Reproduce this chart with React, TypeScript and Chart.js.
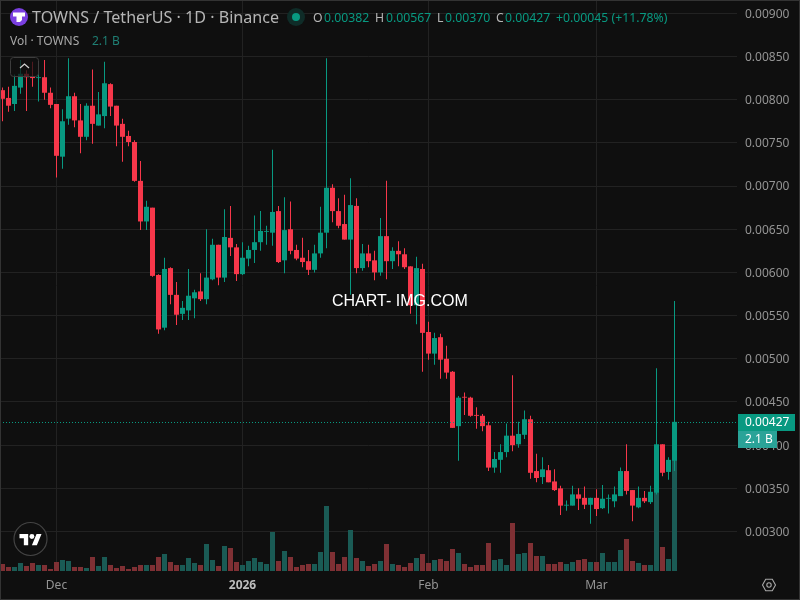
import React, { useEffect, useRef } from "react";
import { Chart, registerables } from "chart.js";

Chart.register(...registerables);

const FONT = '"Noto Sans", sans-serif';
const BG = "#0f0f0f";
const GRID = "#222222";
const AXIS_TEXT = "#949494";
const UP = "#089981";
const DOWN = "#f7374a";
const UP_VOL = "#1a5b55";
const DOWN_VOL = "#7f3034";

const opens = [
  0.00811, 0.00802, 0.00795, 0.00814, 0.0083, 0.00827, 0.00825, 0.00826, 0.00808, 0.00795,
  0.00734, 0.00778, 0.00804, 0.00776, 0.00757, 0.00793, 0.0077, 0.00781, 0.00818, 0.00793,
  0.00772, 0.00758, 0.00751, 0.00706, 0.00659, 0.00675, 0.00597, 0.00536, 0.00605, 0.00574,
  0.00552, 0.00556, 0.0057, 0.00578, 0.00569, 0.00592, 0.00632, 0.00594, 0.0064, 0.00629,
  0.00598, 0.00616, 0.00626, 0.00635, 0.00647, 0.00646, 0.00671, 0.00614, 0.0065, 0.00626,
  0.00617, 0.00613, 0.00603, 0.00622, 0.00646, 0.00698, 0.00671, 0.00656, 0.00638, 0.00677,
  0.00605, 0.00622, 0.00614, 0.006, 0.00642, 0.00613, 0.00625, 0.00621, 0.00607, 0.00562,
  0.00604, 0.00531, 0.00506, 0.00525, 0.005, 0.00485, 0.00422, 0.00456, 0.00455, 0.00435,
  0.00434, 0.00423, 0.00374, 0.00383, 0.00392, 0.00411, 0.00401, 0.00412, 0.0043, 0.0037,
  0.00363, 0.00371, 0.00358, 0.0035, 0.0033, 0.0033, 0.00343, 0.00339, 0.00331, 0.00339,
  0.00327, 0.00338, 0.00335, 0.00341, 0.0037, 0.00348, 0.00328, 0.00339, 0.00334, 0.00345,
  0.00401, 0.00369, 0.00382,
];
const highs = [
  0.00814, 0.00815, 0.00829, 0.00846, 0.00834, 0.00844, 0.0084, 0.00846, 0.00814, 0.00795,
  0.00789, 0.00848, 0.00808, 0.00795, 0.00796, 0.00835, 0.00809, 0.00844, 0.00819, 0.00793,
  0.00778, 0.00764, 0.00753, 0.00729, 0.00683, 0.00675, 0.00598, 0.00617, 0.00606, 0.00589,
  0.00567, 0.00604, 0.0058, 0.00599, 0.0065, 0.00639, 0.00632, 0.00673, 0.00677, 0.00633,
  0.00635, 0.00631, 0.00666, 0.00671, 0.00654, 0.00742, 0.00677, 0.00687, 0.00682, 0.00632,
  0.0064, 0.00626, 0.00632, 0.00676, 0.00848, 0.00702, 0.00686, 0.0069, 0.00709, 0.00686,
  0.00633, 0.00632, 0.00625, 0.00663, 0.00706, 0.00629, 0.00636, 0.00628, 0.00607, 0.00618,
  0.0061, 0.00543, 0.0053, 0.00529, 0.00515, 0.00486, 0.00457, 0.00461, 0.00456, 0.00444,
  0.00436, 0.00427, 0.00392, 0.00401, 0.00425, 0.00481, 0.00427, 0.0044, 0.00434, 0.0039,
  0.00386, 0.00377, 0.00372, 0.00353, 0.00336, 0.00353, 0.0035, 0.00352, 0.00339, 0.00349,
  0.00354, 0.00343, 0.00352, 0.00374, 0.00401, 0.00348, 0.00352, 0.00347, 0.00353, 0.00489,
  0.00401, 0.00386, 0.00567,
];
const lows = [
  0.00775, 0.00786, 0.00787, 0.00807, 0.00787, 0.00815, 0.00798, 0.008, 0.0079, 0.0071,
  0.0072, 0.00771, 0.00768, 0.00738, 0.00753, 0.00749, 0.0077, 0.00767, 0.00781, 0.00746,
  0.00728, 0.00746, 0.00705, 0.00649, 0.00649, 0.00595, 0.00529, 0.00533, 0.00563, 0.00539,
  0.00545, 0.00545, 0.00547, 0.00567, 0.00563, 0.00591, 0.00585, 0.00589, 0.00619, 0.0059,
  0.00597, 0.00607, 0.00611, 0.00625, 0.00632, 0.00631, 0.00611, 0.00599, 0.00621, 0.00614,
  0.00606, 0.00597, 0.006, 0.00617, 0.00628, 0.00658, 0.00651, 0.00638, 0.00574, 0.00599,
  0.00602, 0.00606, 0.00591, 0.00596, 0.00592, 0.00604, 0.00607, 0.00604, 0.00552, 0.0054,
  0.00485, 0.00499, 0.00493, 0.00477, 0.00477, 0.0042, 0.00382, 0.00435, 0.00433, 0.00419,
  0.00416, 0.0037, 0.00368, 0.00368, 0.00386, 0.00393, 0.00397, 0.00407, 0.00361, 0.00357,
  0.00355, 0.00357, 0.00347, 0.00319, 0.00324, 0.0033, 0.00325, 0.00326, 0.00309, 0.00318,
  0.00326, 0.00321, 0.00328, 0.00341, 0.00343, 0.00312, 0.00327, 0.00333, 0.00332, 0.00343,
  0.00364, 0.0036, 0.0037,
];
const closes = [
  0.00801, 0.00793, 0.00816, 0.0083, 0.00826, 0.00825, 0.00826, 0.00808, 0.00794, 0.00735,
  0.00775, 0.00804, 0.00776, 0.00757, 0.00793, 0.00772, 0.00783, 0.00819, 0.00792, 0.0077,
  0.00757, 0.00751, 0.00706, 0.00659, 0.00676, 0.00596, 0.00534, 0.00604, 0.00574, 0.00551,
  0.00559, 0.00573, 0.00577, 0.00569, 0.00594, 0.00632, 0.00594, 0.00641, 0.00629, 0.00598,
  0.00617, 0.00626, 0.00635, 0.00648, 0.00648, 0.0067, 0.00612, 0.00649, 0.00625, 0.00616,
  0.00612, 0.00603, 0.00622, 0.00646, 0.00698, 0.00671, 0.00654, 0.00638, 0.00678, 0.00605,
  0.00622, 0.00613, 0.006, 0.00642, 0.00613, 0.00625, 0.00621, 0.00606, 0.00562, 0.00605,
  0.0053, 0.00506, 0.00524, 0.00499, 0.00484, 0.0042, 0.00455, 0.00455, 0.00434, 0.00434,
  0.00422, 0.00374, 0.00384, 0.00392, 0.00411, 0.004, 0.00413, 0.0043, 0.00368, 0.00362,
  0.00372, 0.00357, 0.00348, 0.0033, 0.00331, 0.00343, 0.00338, 0.00331, 0.00339, 0.00326,
  0.00338, 0.00339, 0.00343, 0.0037, 0.00347, 0.0033, 0.00339, 0.00335, 0.00346, 0.00401,
  0.00368, 0.00383, 0.00427,
];
const volumesMillions = [
  112, 64, 64, 128, 80, 128, 96, 96, 32, 144,
  176, 160, 64, 64, 48, 224, 80, 224, 96, 48,
  80, 32, 64, 96, 96, 96, 224, 272, 144, 96,
  96, 208, 128, 96, 432, 176, 80, 400, 368, 144,
  96, 160, 208, 144, 112, 624, 160, 320, 224, 64,
  96, 112, 112, 304, 1040, 304, 112, 224, 656, 208,
  160, 80, 112, 160, 432, 112, 96, 64, 128, 208,
  272, 128, 176, 192, 160, 352, 288, 112, 64, 96,
  96, 448, 176, 192, 96, 768, 272, 288, 448, 240,
  240, 112, 112, 144, 112, 144, 176, 192, 144, 144,
  288, 144, 144, 336, 512, 160, 128, 96, 96, 1360,
  384, 192, 2100,
];

const priceTicks = [0.003, 0.0035, 0.004, 0.0045, 0.005, 0.0055, 0.006, 0.0065, 0.007, 0.0075, 0.008, 0.0085, 0.009];
const timeTickIndexes = [9, 40, 71, 99];
const timeTickLabels = ["Dec", "2026", "Feb", "Mar"];

const isUp = (i: number) => closes[i] >= opens[i];

const lastPricePlugin = {
  id: "lastPrice",
  afterDatasetsDraw(chart: any) {
    const { ctx, chartArea, scales } = chart;
    const y = Math.round(scales.y.getPixelForValue(closes[closes.length - 1])) + 0.5;
    ctx.save();
    ctx.strokeStyle = UP;
    ctx.lineWidth = 1;
    ctx.setLineDash([1, 2]);
    ctx.beginPath();
    ctx.moveTo(chartArea.left, y);
    ctx.lineTo(chartArea.right, y);
    ctx.stroke();
    ctx.restore();
  },
  afterDraw(chart: any) {
    const { ctx, scales } = chart;
    const y = Math.round(scales.y.getPixelForValue(closes[closes.length - 1]));
    ctx.save();
    ctx.fillStyle = UP;
    ctx.fillRect(738, y - 8, 57, 17);
    ctx.fillStyle = "#2aa398";
    ctx.fillRect(738, y + 9, 39, 17);
    ctx.fillStyle = "#ffffff";
    ctx.font = `12px ${FONT}`;
    ctx.textBaseline = "middle";
    ctx.textAlign = "left";
    ctx.fillText(closes[closes.length - 1].toFixed(5), 745, y + 1);
    ctx.fillText("2.1 B", 745, y + 18);
    ctx.restore();
  },
};

const headerText: React.CSSProperties = {
  position: "absolute",
  whiteSpace: "pre",
  fontFamily: FONT,
  lineHeight: "18px",
};

function Label({ x, y, size, color, children, extra }: any) {
  return <span style={{ ...headerText, left: x, top: y, fontSize: size, color, ...extra }}>{children}</span>;
}

export default function App() {
  const ref = useRef<HTMLCanvasElement>(null);

  useEffect(() => {
    const indexes = opens.map((_, i) => i);
    const chart = new Chart(ref.current as HTMLCanvasElement, {
      type: "bar",
      data: {
        datasets: [
          {
            label: "Body",
            data: indexes.map((i) => ({ x: i, y: [opens[i], closes[i]] })),
            backgroundColor: indexes.map((i) => (isUp(i) ? UP : DOWN)),
            barThickness: 5,
            grouped: false,
            order: 1,
            yAxisID: "y",
            borderWidth: 0,
            inflateAmount: 0,
          },
          {
            label: "Wick",
            data: indexes.map((i) => ({ x: i, y: [lows[i], highs[i]] })),
            backgroundColor: indexes.map((i) => (isUp(i) ? UP : DOWN)),
            barThickness: 1,
            grouped: false,
            order: 2,
            yAxisID: "y",
            borderWidth: 0,
            inflateAmount: 0,
          },
          {
            label: "Volume",
            data: indexes.map((i) => ({ x: i, y: volumesMillions[i] })),
            backgroundColor: indexes.map((i) => (isUp(i) ? UP_VOL : DOWN_VOL)),
            barThickness: 5,
            grouped: false,
            order: 3,
            yAxisID: "vol",
            borderWidth: 0,
            inflateAmount: 0,
          },
        ] as any,
      },
      plugins: [lastPricePlugin],
      options: {
        responsive: false,
        animation: false,
        layout: { padding: 0 },
        plugins: { legend: { display: false }, tooltip: { enabled: false }, title: { display: false } },
        scales: {
          x: {
            type: "linear",
            offset: false,
            min: -2.5 / 6,
            max: (737 - 2.5) / 6,
            position: "bottom",
            afterFit: (s: any) => {
              s.height = 29;
              s.paddingLeft = 0;
              s.paddingRight = 0;
            },
            afterBuildTicks: (s: any) => {
              s.ticks = timeTickIndexes.map((value) => ({ value }));
            },
            grid: { color: GRID, drawTicks: false, lineWidth: 1, offset: false },
            border: { display: false },
            ticks: {
              autoSkip: false,
              maxRotation: 0,
              padding: 7,
              callback: (v: any) => timeTickLabels[timeTickIndexes.indexOf(Number(v))],
              color: (c: any) => (c.tick && c.tick.value === 40 ? "#bdbdbd" : AXIS_TEXT),
              font: (c: any) => ({
                family: FONT,
                size: 12,
                weight: c.tick && c.tick.value === 40 ? "bold" : "normal",
              }),
            },
          },
          y: {
            type: "linear",
            position: "right",
            min: 0.002543,
            max: 0.009154,
            afterFit: (s: any) => {
              s.width = 63;
              s.paddingTop = 0;
              s.paddingBottom = 0;
            },
            afterBuildTicks: (s: any) => {
              s.ticks = priceTicks.map((value) => ({ value }));
            },
            grid: { color: GRID, drawTicks: false, lineWidth: 1 },
            border: { display: false },
            ticks: {
              padding: 8,
              labelOffset: 1,
              color: AXIS_TEXT,
              font: { family: FONT, size: 12 },
              callback: (v: any) => Number(v).toFixed(5),
            },
          },
          vol: {
            type: "linear",
            display: false,
            min: 0,
            max: 9136,
            position: "right",
          },
        },
      } as any,
    });
    return () => chart.destroy();
  }, []);

  return (
    <div style={{ position: "fixed", left: 0, top: 0, width: 800, height: 600, background: BG, overflow: "hidden" }}>
      <canvas ref={ref} width={800} height={600} style={{ display: "block", position: "absolute", left: 0, top: 0 }} />

      <svg width={800} height={600} style={{ position: "absolute", left: 0, top: 0 }}>
        <rect x={0.5} y={0.5} width={799} height={599} fill="none" stroke="#333333" />
        <circle cx={19} cy={17} r={9} fill="#7a3fe0" />
        <path d="M13 12.5h12v4h-3v3.5l-2 2h-3.5v-5.5H13z" fill="#ffffff" />
        <circle cx={296} cy={17} r={9} fill="#0f2c28" />
        <circle cx={296} cy={17} r={4} fill={UP} />
        <rect x={10.5} y={57.5} width={28} height={19} rx={3} fill="rgba(15,15,15,0.72)" stroke="#3d3d3d" />
        <path d="M20 68l4.5-4 4.5 4" fill="none" stroke="#d0d0d0" strokeWidth={1.3} />
        <circle cx={30.5} cy={539} r={16.5} fill={BG} stroke="#444444" strokeWidth={1.2} />
        <g transform="translate(19.5 531.5) scale(0.62)" fill="#ffffff">
          <path d="M14 22H7V11H0V4h14v18zM28 22h-8l7.5-18h8L28 22z" />
          <circle cx={20} cy={8} r={4} />
        </g>
        <path d="M762.5 585l3.2-5.8h6.6l3.2 5.8-3.2 5.8h-6.6z" fill="none" stroke="#a8a8a8" strokeWidth={1.1} />
        <circle cx={769} cy={585} r={2.2} fill="none" stroke="#a8a8a8" strokeWidth={1.1} />
      </svg>

      <Label x={32} y={8} size={16.1} color="#b6b6b6">TOWNS / TetherUS · 1D · Binance</Label>
      <Label x={313} y={9} size={12.25} color="#b6b6b6">O</Label>
      <Label x={324} y={9} size={12.25} color={UP}>0.00382</Label>
      <Label x={375} y={9} size={12.25} color="#b6b6b6">H</Label>
      <Label x={386} y={9} size={12.25} color={UP}>0.00567</Label>
      <Label x={437} y={9} size={12.25} color="#b6b6b6">L</Label>
      <Label x={445} y={9} size={12.25} color={UP}>0.00370</Label>
      <Label x={496} y={9} size={12.25} color="#b6b6b6">C</Label>
      <Label x={505} y={9} size={12.25} color={UP}>0.00427</Label>
      <Label x={556} y={9} size={12.25} color={UP}>+0.00045 (+11.78%)</Label>
      <Label x={10} y={32} size={12} color="#a8a8a8">Vol · TOWNS</Label>
      <Label x={92} y={32} size={12} color="#1f7f74">2.1 B</Label>
      <span
        style={{
          position: "absolute",
          left: 332,
          top: 292,
          fontFamily: '"Liberation Sans", sans-serif',
          fontSize: 16,
          lineHeight: "18px",
          color: "#ffffff",
          whiteSpace: "pre",
        }}
      >
        CHART- IMG.COM
      </span>
    </div>
  );
}
